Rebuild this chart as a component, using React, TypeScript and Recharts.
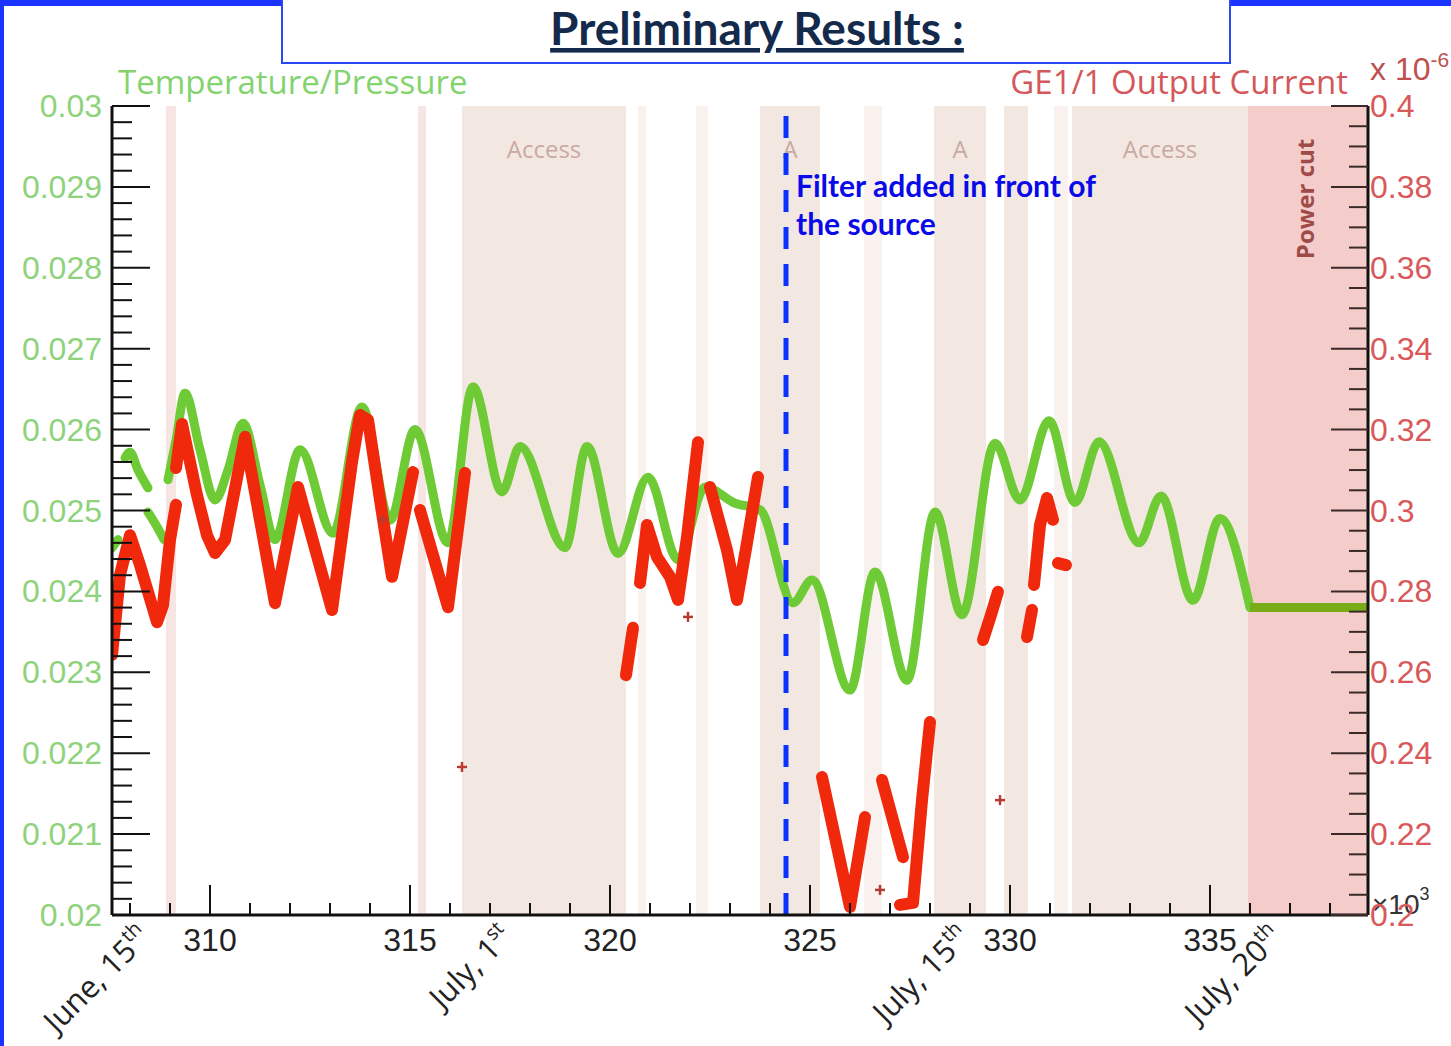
import React from 'react';
import { ComposedChart, Line, Scatter, XAxis, YAxis, ReferenceArea, ReferenceLine } from 'recharts';

const W = 1451;
const H = 1046;

// ---------- axes ----------
const xDomain: [number, number] = [307.55, 338.95];
const leftDomain: [number, number] = [0.02, 0.03];
const rightDomain: [number, number] = [0.2, 0.4];

const xMajor = [310, 315, 320, 325, 330, 335];
const xMajorLabels = ['310', '315', '320', '325', '330', '335'];
const leftMajor = [0.02, 0.021, 0.022, 0.023, 0.024, 0.025, 0.026, 0.027, 0.028, 0.029, 0.03];
const leftMajorLabels = ['0.02', '0.021', '0.022', '0.023', '0.024', '0.025', '0.026', '0.027', '0.028', '0.029', '0.03'];
const rightMajor = [0.2, 0.22, 0.24, 0.26, 0.28, 0.3, 0.32, 0.34, 0.36, 0.38, 0.4];
const rightMajorLabels = ['0.2', '0.22', '0.24', '0.26', '0.28', '0.3', '0.32', '0.34', '0.36', '0.38', '0.4'];

const makeTicks = (lo: number, hi: number, step: number) => {
  const n = Math.round((hi - lo) / step);
  return Array.from({ length: n + 1 }, (_, i) => +(lo + i * step).toFixed(6));
};
const xTicks = makeTicks(308, 338, 1);
const leftTicks = makeTicks(0.02, 0.03, 0.0002);
const rightTicks = makeTicks(0.2, 0.4, 0.005);

// ---------- annotations ----------
const dateMarks = [
  { u: 308.55, text: 'June, 15', sup: 'th' },
  { u: 317.6, text: 'July, 1', sup: 'st' },
  { u: 329.05, text: 'July, 15', sup: 'th' },
  { u: 336.85, text: 'July, 20', sup: 'th' },
];
const filterX = 324.4;

const bands = [
  { x1: 308.9, x2: 309.15, tone: 'stripe', label: '' },
  { x1: 315.2, x2: 315.4, tone: 'stripe', label: '' },
  { x1: 316.3, x2: 320.4, tone: 'access', label: 'Access' },
  { x1: 320.7, x2: 320.9, tone: 'faint', label: '' },
  { x1: 322.15, x2: 322.45, tone: 'faint', label: '' },
  { x1: 323.75, x2: 325.25, tone: 'access', label: 'A' },
  { x1: 326.35, x2: 326.8, tone: 'faint', label: '' },
  { x1: 328.1, x2: 329.4, tone: 'access', label: 'A' },
  { x1: 329.85, x2: 330.45, tone: 'access', label: '' },
  { x1: 331.1, x2: 331.45, tone: 'faint', label: '' },
  { x1: 331.55, x2: 335.95, tone: 'access', label: 'Access' },
  { x1: 335.95, x2: 338.95, tone: 'power', label: 'Power cut' },
];
const toneColor: Record<string, string> = {
  access: '#f2e8e1',
  faint: '#f8f1ed',
  stripe: '#f6e5e2',
  power: '#f4cdcb',
};

// ---------- Temperature/Pressure (left axis) ----------
const tempLead1 = [
  { u: 307.55, v: 0.02454 },
  { u: 307.7, v: 0.02464 },
];
const tempLead2 = [
  { u: 307.875, v: 0.02565 },
  { u: 308.0, v: 0.02572 },
  { u: 308.2, v: 0.0255 },
  { u: 308.45, v: 0.02528 },
];
const tempLead3 = [
  { u: 308.45, v: 0.02498 },
  { u: 308.65, v: 0.02482 },
  { u: 308.85, v: 0.02464 },
];
const tempMain = [
  { u: 308.95, v: 0.02538 },
  { u: 309.15, v: 0.02587 },
  { u: 309.375, v: 0.02645 },
  { u: 309.75, v: 0.02575 },
  { u: 310.125, v: 0.02513 },
  { u: 310.45, v: 0.0255 },
  { u: 310.825, v: 0.02608 },
  { u: 311.25, v: 0.02532 },
  { u: 311.625, v: 0.02464 },
  { u: 312.25, v: 0.02575 },
  { u: 313.075, v: 0.02472 },
  { u: 313.8, v: 0.02628 },
  { u: 314.5, v: 0.02488 },
  { u: 315.125, v: 0.026 },
  { u: 315.95, v: 0.0246 },
  { u: 316.575, v: 0.02653 },
  { u: 317.3, v: 0.02523 },
  { u: 317.75, v: 0.02579 },
  { u: 318.875, v: 0.02454 },
  { u: 319.425, v: 0.02579 },
  { u: 320.2, v: 0.02447 },
  { u: 320.95, v: 0.02541 },
  { u: 321.7, v: 0.02439 },
  { u: 322.375, v: 0.02529 },
  { u: 323.125, v: 0.02509 },
  { u: 323.75, v: 0.02501 },
  { u: 324.575, v: 0.02386 },
  { u: 325.05, v: 0.02414 },
  { u: 326.0, v: 0.02278 },
  { u: 326.625, v: 0.02424 },
  { u: 327.425, v: 0.0229 },
  { u: 328.125, v: 0.02498 },
  { u: 328.8, v: 0.02371 },
  { u: 329.625, v: 0.02583 },
  { u: 330.25, v: 0.02513 },
  { u: 330.975, v: 0.02611 },
  { u: 331.625, v: 0.0251 },
  { u: 332.225, v: 0.02585 },
  { u: 333.225, v: 0.0246 },
  { u: 333.775, v: 0.02518 },
  { u: 334.575, v: 0.02389 },
  { u: 335.25, v: 0.0249 },
  { u: 336.0, v: 0.0238 },
];
const tempFlat = [
  { u: 336.0, v: 0.0238 },
  { u: 338.95, v: 0.0238 },
];

// ---------- GE1/1 Output Current (right axis, x 10^-6) ----------
const cur1 = [
  { u: 307.55, v: 0.2643 },
  { u: 307.75, v: 0.2841 },
  { u: 308.0, v: 0.2939 },
  { u: 308.25, v: 0.2865 },
  { u: 308.675, v: 0.2724 },
  { u: 308.825, v: 0.2766 },
  { u: 309.0, v: 0.2927 },
  { u: 309.15, v: 0.3014 },
];
const cur2 = [
  { u: 309.15, v: 0.3105 },
  { u: 309.3, v: 0.3214 },
  { u: 309.5, v: 0.312 },
  { u: 309.675, v: 0.3038 },
  { u: 309.925, v: 0.2939 },
  { u: 310.125, v: 0.2895 },
  { u: 310.375, v: 0.2927 },
  { u: 310.875, v: 0.3182 },
  { u: 311.625, v: 0.2771 },
  { u: 312.2, v: 0.3058 },
  { u: 313.05, v: 0.2754 },
  { u: 313.55, v: 0.312 },
  { u: 313.75, v: 0.3236 },
  { u: 313.95, v: 0.3224 },
  { u: 314.25, v: 0.3026 },
  { u: 314.55, v: 0.2836 },
  { u: 315.075, v: 0.3095 },
];
const cur3 = [
  { u: 315.25, v: 0.3001 },
  { u: 315.95, v: 0.2761 },
  { u: 316.375, v: 0.3093 },
];
const cur4 = [
  { u: 320.4, v: 0.2593 },
  { u: 320.575, v: 0.271 },
];
const cur5 = [
  { u: 320.75, v: 0.2821 },
  { u: 320.925, v: 0.2964 },
  { u: 321.175, v: 0.2885 },
  { u: 321.5, v: 0.2836 },
  { u: 321.7, v: 0.2779 },
  { u: 321.925, v: 0.2934 },
  { u: 322.2, v: 0.3169 },
];
const cur6 = [
  { u: 322.5, v: 0.3058 },
  { u: 322.925, v: 0.2902 },
  { u: 323.175, v: 0.2779 },
  { u: 323.425, v: 0.292 },
  { u: 323.7, v: 0.3083 },
];
const cur7 = [
  { u: 325.3, v: 0.2341 },
  { u: 326.0, v: 0.202 },
  { u: 326.375, v: 0.2242 },
];
const cur8 = [
  { u: 326.8, v: 0.2334 },
  { u: 327.325, v: 0.2143 },
];
const cur9 = [
  { u: 327.25, v: 0.2025 },
  { u: 327.575, v: 0.203 },
  { u: 327.8, v: 0.2284 },
  { u: 328.0, v: 0.2477 },
];
const cur10 = [
  { u: 329.325, v: 0.268 },
  { u: 329.525, v: 0.2742 },
  { u: 329.7, v: 0.2799 },
];
const cur11 = [
  { u: 330.425, v: 0.2687 },
  { u: 330.55, v: 0.2754 },
];
const cur12 = [
  { u: 330.6, v: 0.2816 },
  { u: 330.75, v: 0.2964 },
  { u: 330.925, v: 0.3031 },
  { u: 331.075, v: 0.2977 },
];
const cur13 = [
  { u: 331.2, v: 0.287 },
  { u: 331.4, v: 0.2865 },
];
const curOutliers = [
  { u: 314.325, v: 0.2977 },
  { u: 316.3, v: 0.2366 },
  { u: 321.95, v: 0.2737 },
  { u: 326.75, v: 0.2062 },
  { u: 329.75, v: 0.2284 },
];

const tempSegments = [tempLead1, tempLead2, tempLead3, tempMain];
const currentSegments = [cur1, cur2, cur3, cur4, cur5, cur6, cur7, cur8, cur9, cur10, cur11, cur12, cur13];

// ---------- styles ----------
const GREEN = '#6fcb35';
const GREEN_FLAT = '#78ad18';
const RED = '#f0280c';
const LEFT_LABEL = '#8ed37c';
const RIGHT_LABEL = '#d9585a';
const TICK_FONT = 'Liberation Sans, Arial, sans-serif';
const TEXT_FONT = 'Open Sans, sans-serif';
const axisStyle = { stroke: '#111', strokeWidth: 3 };

const findIdx = (arr: number[], v: number, tol: number) => arr.findIndex((m) => Math.abs(m - v) < tol);

const BottomTick = (p: any) => {
  const { x, y, payload } = p;
  const i = findIdx(xMajor, payload.value, 1e-6);
  const major = i >= 0;
  return (
    <g>
      <line x1={x} x2={x} y1={y} y2={y - (major ? 30 : 12)} stroke="#111" strokeWidth={2} />
      {major && (
        <text x={x} y={y + 36} textAnchor="middle" fontSize={32} fontFamily={TICK_FONT} fill="#222">
          {xMajorLabels[i]}
        </text>
      )}
    </g>
  );
};

const TopTick = (p: any) => {
  const { x, y, payload } = p;
  const major = findIdx(xMajor, payload.value, 1e-6) >= 0;
  return <line x1={x} x2={x} y1={y} y2={y + (major ? 30 : 15)} stroke="#111" strokeWidth={2} />;
};

const LeftTick = (p: any) => {
  const { x, y, payload } = p;
  const i = findIdx(leftMajor, payload.value, 1e-7);
  const major = i >= 0;
  return (
    <g>
      <line x1={x} x2={x + (major ? 38 : 20)} y1={y} y2={y} stroke="#111" strokeWidth={2} />
      {major && (
        <text x={x - 10} y={y} dy={11} textAnchor="end" fontSize={32} fontFamily={TICK_FONT} fill={LEFT_LABEL}>
          {leftMajorLabels[i]}
        </text>
      )}
    </g>
  );
};

const RightTick = (p: any) => {
  const { x, y, payload } = p;
  const i = findIdx(rightMajor, payload.value, 1e-6);
  const major = i >= 0;
  return (
    <g>
      <line x1={x} x2={x - (major ? 37 : 19)} y1={y} y2={y} stroke="#3a2a2a" strokeWidth={2} />
      {major && (
        <text x={x + 2} y={y} dy={11} textAnchor="start" fontSize={32} fontFamily={TICK_FONT} fill={RIGHT_LABEL}>
          {rightMajorLabels[i]}
        </text>
      )}
    </g>
  );
};

const DateLabel = (p: any) => {
  const { viewBox, text, sup } = p;
  if (!viewBox) return null;
  const px = viewBox.x;
  const py = viewBox.y + viewBox.height + 24;
  return (
    <text
      transform={`translate(${px},${py}) rotate(-45)`}
      textAnchor="end"
      fontSize={31}
      fontFamily={TEXT_FONT}
      fill="#222"
    >
      <tspan>{text}</tspan>
      <tspan dy={-13} fontSize={20}>{sup}</tspan>
    </text>
  );
};

const BandLabel = (p: any) => {
  const { viewBox, text } = p;
  if (!viewBox || !text) return null;
  const cx = viewBox.x + viewBox.width / 2;
  if (text === 'Power cut') {
    const cy = viewBox.y + 93;
    return (
      <text
        transform={`translate(${cx + 6},${cy}) rotate(-90)`}
        textAnchor="middle"
        fontSize={24}
        fontWeight={700}
        fontFamily={TEXT_FONT}
        fill="#9e4a48"
      >
        {text}
      </text>
    );
  }
  return (
    <text x={cx} y={viewBox.y + 52} textAnchor="middle" fontSize={24} fontFamily={TEXT_FONT} fill="#caa8a3">
      {text}
    </text>
  );
};

const FilterLabel = (p: any) => {
  const { viewBox } = p;
  if (!viewBox) return null;
  const x = viewBox.x + 10;
  const y = viewBox.y;
  return (
    <g fontFamily="Lato, sans-serif" fontWeight={700} fontSize={30} fill="#0a0ae8">
      <text x={x} y={y + 91}>Filter added in front of</text>
      <text x={x} y={y + 129}>the source</text>
    </g>
  );
};

const PlusShape = (p: any) => {
  const { cx, cy } = p;
  return (
    <g stroke="#b83a30" strokeWidth={2.5}>
      <line x1={cx - 5} x2={cx + 5} y1={cy} y2={cy} />
      <line x1={cx} x2={cx} y1={cy - 5} y2={cy + 5} />
    </g>
  );
};

export default function App() {
  return (
    <div style={{ position: 'absolute', left: 0, top: 0, width: W, height: H, background: '#fff', overflow: 'hidden' }}>
      <svg width={W} height={H} style={{ position: 'absolute', left: 0, top: 0 }}>
        <rect x={0} y={0} width={4} height={H} fill="#1a33ff" />
        <rect x={0} y={0} width={284} height={6} fill="#1a33ff" />
        <rect x={1228} y={0} width={W - 1228} height={6} fill="#1a33ff" />
        <rect x={282} y={-4} width={948} height={67} fill="#fff" stroke="#2a48f0" strokeWidth={2} />
        <text
          x={757}
          y={45}
          textAnchor="middle"
          fontSize={46}
          fontWeight={700}
          fontFamily="Lato, sans-serif"
          fill="#142a4c"
          style={{ textDecoration: 'underline' }}
        >
          Preliminary Results :
        </text>
        <text x={118} y={94} fontSize={33} fontFamily={TEXT_FONT} fill="#84d36f">
          Temperature/Pressure
        </text>
        <text x={1348} y={94} textAnchor="end" fontSize={33} fontFamily={TEXT_FONT} fill="#d4575a">
          GE1/1 Output Current
        </text>
        <text x={1370} y={80} fontSize={32} fontFamily={TICK_FONT} fill="#c0504d">
          <tspan>x 10</tspan>
          <tspan dy={-13} fontSize={21}>-6</tspan>
        </text>
        <text x={1372} y={914} fontSize={28} fontFamily={TICK_FONT} fill="#333">
          <tspan>×10</tspan>
          <tspan dy={-14} fontSize={18}>3</tspan>
        </text>
      </svg>
      <div style={{ position: 'absolute', left: 0, top: 0 }}>
        <ComposedChart width={W} height={H} margin={{ top: 106, right: 13, bottom: 71, left: 12 }}>
          <XAxis
            xAxisId="b"
            type="number"
            dataKey="u"
            domain={xDomain}
            allowDataOverflow
            ticks={xTicks}
            interval={0}
            tickSize={0}
            tickMargin={0}
            tickLine={false}
            tick={<BottomTick />}
            axisLine={axisStyle}
            height={60}
          />
          <XAxis
            xAxisId="t"
            orientation="top"
            type="number"
            dataKey="u"
            domain={xDomain}
            allowDataOverflow
            ticks={xTicks}
            interval={0}
            tickSize={0}
            tickMargin={0}
            tickLine={false}
            tick={<TopTick />}
            axisLine={axisStyle}
            height={0}
          />
          <YAxis
            yAxisId="left"
            type="number"
            domain={leftDomain}
            allowDataOverflow
            ticks={leftTicks}
            interval={0}
            tickSize={0}
            tickMargin={0}
            tickLine={false}
            tick={<LeftTick />}
            axisLine={axisStyle}
            width={100}
          />
          <YAxis
            yAxisId="right"
            orientation="right"
            type="number"
            domain={rightDomain}
            allowDataOverflow
            ticks={rightTicks}
            interval={0}
            tickSize={0}
            tickMargin={0}
            tickLine={false}
            tick={<RightTick />}
            axisLine={axisStyle}
            width={70}
          />

          {bands.map((b, i) => (
            <ReferenceArea
              key={'band' + i}
              xAxisId="b"
              yAxisId="left"
              x1={b.x1}
              x2={b.x2}
              fill={toneColor[b.tone]}
              fillOpacity={1}
              stroke="none"
              label={<BandLabel text={b.label} />}
            />
          ))}

          {tempSegments.map((seg, i) => (
            <Line
              key={'temp' + i}
              data={seg}
              dataKey="v"
              xAxisId="b"
              yAxisId="left"
              type="monotone"
              stroke={GREEN}
              strokeWidth={9}
              strokeLinecap="round"
              strokeLinejoin="round"
              dot={false}
              activeDot={false}
              isAnimationActive={false}
            />
          ))}
          <Line
            data={tempFlat}
            dataKey="v"
            xAxisId="b"
            yAxisId="left"
            type="linear"
            stroke={GREEN_FLAT}
            strokeWidth={9}
            dot={false}
            activeDot={false}
            isAnimationActive={false}
          />

          {currentSegments.map((seg, i) => (
            <Line
              key={'cur' + i}
              data={seg}
              dataKey="v"
              xAxisId="b"
              yAxisId="right"
              type="linear"
              stroke={RED}
              strokeWidth={12}
              strokeLinecap="round"
              strokeLinejoin="round"
              dot={false}
              activeDot={false}
              isAnimationActive={false}
            />
          ))}
          <Scatter
            data={curOutliers}
            dataKey="v"
            xAxisId="b"
            yAxisId="right"
            shape={<PlusShape />}
            isAnimationActive={false}
          />

          {dateMarks.map((d, i) => (
            <ReferenceLine
              key={'date' + i}
              x={d.u}
              xAxisId="b"
              yAxisId="left"
              stroke="none"
              label={<DateLabel text={d.text} sup={d.sup} />}
            />
          ))}

          <ReferenceLine
            x={filterX}
            xAxisId="b"
            yAxisId="left"
            stroke="#0a32ff"
            strokeWidth={5}
            strokeDasharray="22 15"
            label={<FilterLabel />}
          />
        </ComposedChart>
      </div>
    </div>
  );
}
